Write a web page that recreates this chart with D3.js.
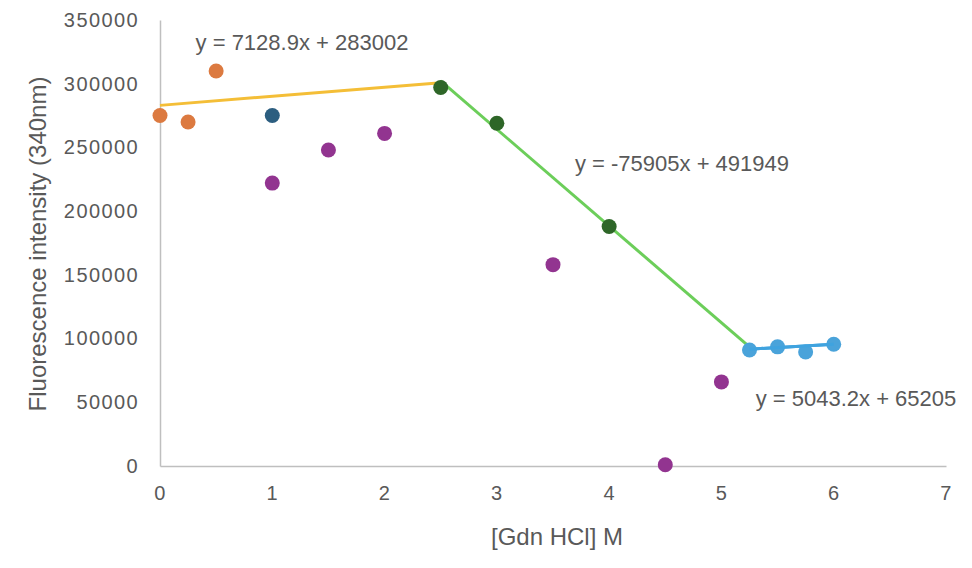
<!DOCTYPE html>
<html><head><meta charset="utf-8">
<script src="https://cdn.jsdelivr.net/npm/d3@7"></script>
<style>body{margin:0;background:#fff}svg{display:block}text{font-family:"Liberation Sans",Arial,sans-serif;fill:#595959}</style>
</head><body><svg id="c" width="972" height="568"></svg>
<script>
// Data series: [x, y]
const orangeX = [0, 0.25, 0.5];
const orangeY = [275000, 270000, 310000];
const darkBlueX = [1];
const darkBlueY = [275000];
const purpleX = [1, 1.5, 2, 3.5, 4.5, 5];
const purpleY = [222000, 248000, 261000, 158000, 1000, 66000];
const darkGreenX = [2.5, 3, 4];
const darkGreenY = [297000, 269000, 188000];
const lightBlueX = [5.25, 5.5, 5.75, 6];
const lightBlueY = [91000, 93500, 89500, 95500];
// Trendlines
const trendSlopes = [7128.9, -75905, 5043.2];
const trendIntercepts = [283002, 491949, 65205];
const trendFrom = [0, 2.5, 5.25];
const trendTo = [2.5, 5.25, 6];
const trendLabels = ["y = 7128.9x + 283002", "y = -75905x + 491949", "y = 5043.2x + 65205"];
const xTicks = [0,1,2,3,4,5,6,7];
const yTicks = [0,50000,100000,150000,200000,250000,300000,350000];

const svg = d3.select("#c");
const x = d3.scaleLinear().domain([0,7]).range([160,946]);
const y = d3.scaleLinear().domain([0,350000]).range([466,20]);

// axes
const xAxis = svg.append("g").attr("transform","translate(0,466)")
  .call(d3.axisBottom(x).tickValues(xTicks).tickSize(0).tickPadding(20).tickFormat(d3.format("d")));
const yAxis = svg.append("g").attr("transform","translate(160,0)")
  .call(d3.axisLeft(y).tickValues(yTicks).tickSize(0).tickPadding(21).tickFormat(d3.format("d")));
[xAxis,yAxis].forEach(a=>{
  a.select(".domain").attr("stroke","#BFBFBF").attr("stroke-width",1.5);
  a.selectAll("text").attr("font-size",20).attr("fill","#595959").attr("font-family","Liberation Sans, Arial, sans-serif").attr("letter-spacing","1.4px");
});
xAxis.selectAll("text").attr("dy","0.68em");

// trendlines
const trendColors = ["#F4BE37","#6CCE5A","#3FA3DF"];
trendSlopes.forEach((m,i)=>{
  svg.append("line")
    .attr("x1",x(trendFrom[i])).attr("y1",y(m*trendFrom[i]+trendIntercepts[i]))
    .attr("x2",x(trendTo[i])).attr("y2",y(m*trendTo[i]+trendIntercepts[i]))
    .attr("stroke",trendColors[i]).attr("stroke-width",3);
});

// points
const series = [
  {xs:orangeX, ys:orangeY, c:"#DC7A40"},
  {xs:darkBlueX, ys:darkBlueY, c:"#2C5E80"},
  {xs:purpleX, ys:purpleY, c:"#923490"},
  {xs:darkGreenX, ys:darkGreenY, c:"#2E6628"},
  {xs:lightBlueX, ys:lightBlueY, c:"#4AA3DA"}
];
series.forEach(s=>{
  svg.append("g").selectAll("circle").data(s.xs.map((d,i)=>[d,s.ys[i]])).join("circle")
    .attr("cx",d=>x(d[0])).attr("cy",d=>y(d[1])).attr("r",7.5).attr("fill",s.c);
});
// blue trendline drawn over its points
svg.append("line")
  .attr("x1",x(trendFrom[2])).attr("y1",y(trendSlopes[2]*trendFrom[2]+trendIntercepts[2]))
  .attr("x2",x(trendTo[2])).attr("y2",y(trendSlopes[2]*trendTo[2]+trendIntercepts[2]))
  .attr("stroke",trendColors[2]).attr("stroke-width",3);

// equation labels
const labelPos = [[302,50],[682,171],[856,406]];
trendLabels.forEach((t,i)=>{
  svg.append("text").attr("x",labelPos[i][0]).attr("y",labelPos[i][1])
    .attr("text-anchor","middle").attr("font-size",22).attr("fill","#595959").text(t);
});

// axis titles
svg.append("text").attr("x",557).attr("y",545).attr("text-anchor","middle").attr("font-size",24).text("[Gdn HCl] M");
svg.append("text").attr("transform","translate(46,244) rotate(-90)").attr("text-anchor","middle").attr("font-size",24).text("Fluorescence intensity (340nm)");
</script></body></html>
